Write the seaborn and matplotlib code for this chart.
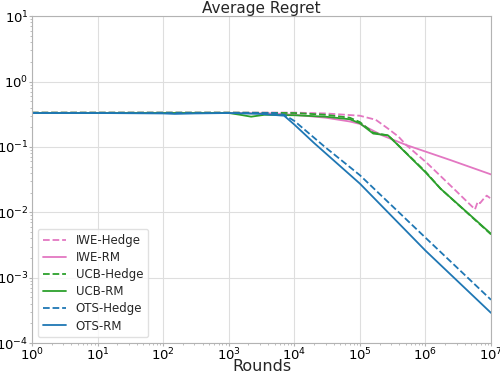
import matplotlib
matplotlib.use("Agg")
import matplotlib.pyplot as plt
import seaborn as sns

# rounds (x) and average regret (y) per algorithm
iwe_hedge_t = [1, 1000, 1e4, 3e4, 1e5, 1.75e5, 2.7e5, 3.9e5, 5.1e5, 1.07e6, 2.7e6, 5.7e6, 6.27e6, 6.8e6, 7.6e6, 8.6e6, 9.7e6]
iwe_hedge_r = [0.335, 0.335, 0.335, 0.325, 0.30, 0.26, 0.19, 0.143, 0.107, 0.056, 0.023, 0.0111, 0.0145, 0.0138, 0.0158, 0.018, 0.0165]

iwe_rm_t = [1, 1000, 5000, 1e4, 3e4, 7e4, 1e5, 2.2e5, 5.1e5, 2.4e6, 1e7]
iwe_rm_r = [0.33, 0.33, 0.325, 0.31, 0.28, 0.245, 0.225, 0.15, 0.107, 0.063, 0.038]

ucb_hedge_t = [1, 1000, 1e4, 3e4, 7e4, 1e5, 1.6e5, 2.7e5, 1e6, 1.7e6, 1e7]
ucb_hedge_r = [0.335, 0.335, 0.33, 0.31, 0.28, 0.24, 0.165, 0.15, 0.042, 0.023, 0.0046]

ucb_rm_t = [1, 100, 1000, 1500, 2200, 3500, 1e4, 3e4, 7e4, 1e5, 1.6e5, 2.7e5, 1e6, 1.7e6, 1e7]
ucb_rm_r = [0.33, 0.33, 0.33, 0.31, 0.29, 0.31, 0.305, 0.29, 0.265, 0.23, 0.16, 0.15, 0.041, 0.023, 0.0047]

ots_hedge_t = [1, 100, 1000, 5000, 7000, 1e4, 3e4, 1e5, 1e6, 1e7]
ots_hedge_r = [0.33, 0.33, 0.33, 0.33, 0.31, 0.25, 0.098, 0.037, 0.0041, 0.00046]

ots_rm_t = [1, 10, 100, 150, 300, 1000, 3000, 7000, 1e4, 2e4, 1e5, 1e6, 1e7]
ots_rm_r = [0.33, 0.33, 0.325, 0.32, 0.325, 0.33, 0.32, 0.30, 0.22, 0.115, 0.0275, 0.0026, 0.00029]

pink, green, blue = "#e377c2", "#2ca02c", "#1f77b4"

sns.set_style("whitegrid", {"xtick.bottom": True, "ytick.left": True,
                            "axes.edgecolor": ".7", "grid.color": ".87"})

fig, ax = plt.subplots(figsize=(5, 3.75), dpi=100)
fig.subplots_adjust(left=0.064, right=0.982, top=0.957, bottom=0.085)

series = [
    ("IWE-Hedge", iwe_hedge_t, iwe_hedge_r, pink, "--"),
    ("IWE-RM", iwe_rm_t, iwe_rm_r, pink, "-"),
    ("UCB-Hedge", ucb_hedge_t, ucb_hedge_r, green, "--"),
    ("UCB-RM", ucb_rm_t, ucb_rm_r, green, "-"),
    ("OTS-Hedge", ots_hedge_t, ots_hedge_r, blue, "--"),
    ("OTS-RM", ots_rm_t, ots_rm_r, blue, "-"),
]
for name, t, r, c, ls in series:
    sns.lineplot(x=t, y=r, ax=ax, color=c, linestyle=ls, linewidth=1.3, label=name)

ax.set_xscale("log")
ax.set_yscale("log")
ax.set_xlim(1, 1e7)
ax.set_ylim(1e-4, 10)
ax.set_xticks([10 ** i for i in range(8)])
ax.set_yticks([10 ** i for i in range(-4, 2)])
ax.tick_params(axis="both", which="both", labelsize=9.5, color=".7", pad=0.5,
               labelcolor="black")
ax.tick_params(which="major", length=2)
ax.tick_params(which="minor", length=1.5)
ax.set_title("Average Regret", fontsize=11, pad=1)
ax.set_xlabel("Rounds", fontsize=11.5)
ax.xaxis.set_label_coords(0.5, -0.048)
ax.set_ylabel("")
ax.legend(loc="lower left", fontsize=8.5, frameon=True, edgecolor=".85",
          labelspacing=0.35)

fig.savefig("out.png", dpi=100)
